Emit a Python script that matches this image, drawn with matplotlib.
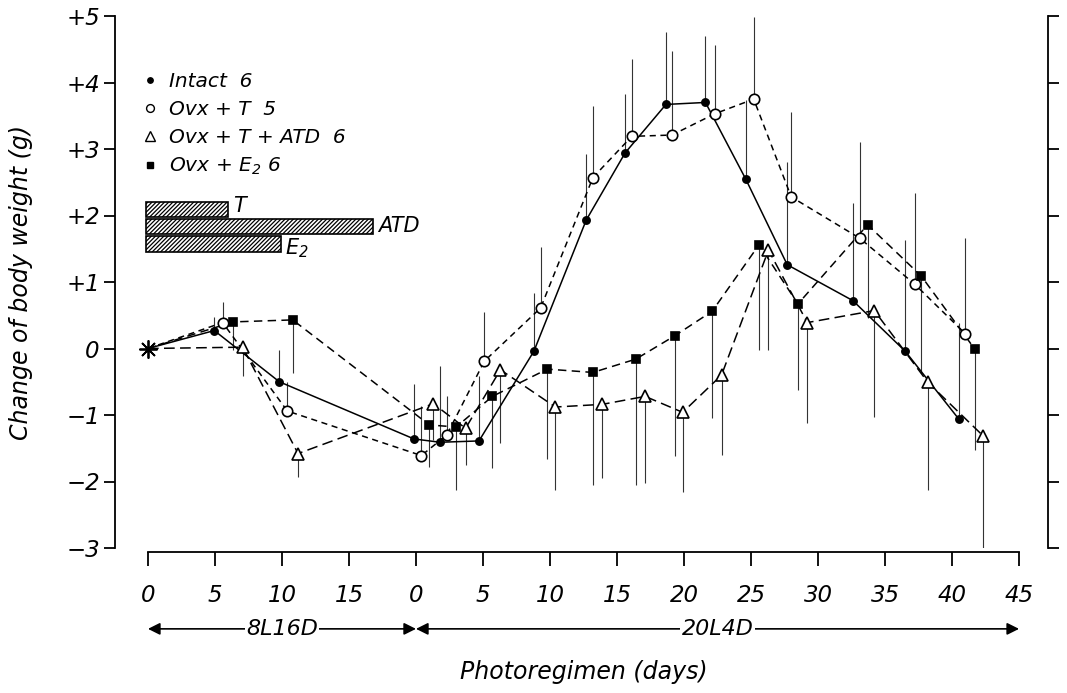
import numpy as np
import matplotlib
matplotlib.use("Agg")
import matplotlib.pyplot as plt
from matplotlib.lines import Line2D

plt.rcParams["font.family"] = ["DejaVu Sans"]
plt.rcParams["font.style"] = "italic"
plt.rcParams["mathtext.fontset"] = "dejavusans"
plt.rcParams["mathtext.default"] = "it"
plt.rcParams["hatch.linewidth"] = 0.9

# days on a continuous scale: 0-20 = 8L16D, 20-65 = 20L4D (0-45)
intact_x = [0, 4.95, 9.8, 19.85, 21.8, 24.7, 28.8, 32.7, 35.6, 38.65, 41.6, 44.6, 47.7, 52.6, 56.5, 60.5]
intact_y = [0, 0.27, -0.50, -1.36, -1.41, -1.39, -0.04, 1.93, 2.94, 3.67, 3.70, 2.55, 1.26, 0.72, -0.04, -1.06]
intact_se = [0, 0.20, 0.48, 0.83, 1.15, 0.97, 0.87, 1.00, 0.89, 1.09, 1.00, 1.19, 1.54, 1.47, 1.67, 1.44]

ovxt_x = [0, 5.57, 10.4, 20.4, 22.3, 25.1, 29.3, 33.2, 36.1, 39.1, 42.3, 45.2, 48.0, 53.1, 57.2, 61.0]
ovxt_y = [0, 0.39, -0.94, -1.61, -1.30, -0.19, 0.61, 2.57, 3.19, 3.21, 3.53, 3.75, 2.28, 1.66, 0.97, 0.22]
ovxt_se = [0, 0.31, 0.44, 0.74, 0.58, 0.74, 0.92, 1.07, 1.16, 1.26, 1.03, 1.23, 1.28, 1.44, 1.37, 1.44]

atd_x = [0, 7.06, 11.2, 21.3, 23.7, 26.3, 30.4, 33.9, 37.1, 39.9, 42.8, 46.3, 49.2, 54.2, 58.2, 62.3]
atd_y = [0, 0.02, -1.58, -0.83, -1.20, -0.32, -0.88, -0.84, -0.72, -0.96, -0.40, 1.48, 0.39, 0.57, -0.51, -1.31]
atd_se = [0, 0.44, 0.35, 0.55, 0.55, 1.10, 1.25, 1.10, 1.30, 1.20, 1.20, 1.50, 1.51, 1.60, 1.62, 1.75]

e2_x = [0, 6.37, 10.8, 21.0, 23.0, 25.7, 29.8, 33.2, 36.4, 39.3, 42.1, 45.6, 48.5, 53.7, 57.7, 61.7]
e2_y = [0, 0.40, 0.43, -1.15, -1.18, -0.72, -0.31, -0.36, -0.16, 0.19, 0.56, 1.56, 0.67, 1.86, 1.09, -0.01]
e2_se = [0, 0.42, 0.80, 0.63, 0.95, 1.08, 1.35, 1.70, 1.90, 1.80, 1.60, 1.58, 1.29, 1.40, 1.46, 1.52]

# treatment bars (end day, y centre)
treat_names = ["T", "ATD", "E$_2$"]
treat_end = [6.0, 16.8, 9.9]
treat_y = [2.09, 1.835, 1.575]

xticks = list(range(0, 70, 5))
xlabels = ["0", "5", "10", "15", "0", "5", "10", "15", "20", "25", "30", "35", "40", "45"]
yticks = [5, 4, 3, 2, 1, 0, -1, -2, -3]
ylabels = ["+5", "+4", "+3", "+2", "+1", "0", "\u22121", "\u22122", "\u22123"]

fig = plt.figure(figsize=(10.67, 6.93), dpi=100)
ax = fig.add_axes([115/1067, 1-548/693, 933/1067, 532/693])
ax.set_xlim(-2.46, 67.16)
ax.set_ylim(-3, 5)

k = "black"
series = [
    (intact_x, intact_y, intact_se, "o", k, 5.2, "-", "up", "Intact  6"),
    (ovxt_x, ovxt_y, ovxt_se, "o", "white", 7.5, (0, (4, 3)), "up", "Ovx + T  5"),
    (atd_x, atd_y, atd_se, "^", "white", 9.0, (0, (7, 3.5)), "down", "Ovx + T + ATD  6"),
    (e2_x, e2_y, e2_se, "s", k, 6.3, (0, (5.5, 3.5)), "down", "Ovx + E$_2$ 6"),
]
handles = []
labels = []
for xs, ys, se, mk, fc, ms, ls, d, lab in series:
    xs = np.array(xs[1:]); ys = np.array(ys[1:]); se = np.array(se[1:])
    if d == "up":
        yerr = [np.zeros_like(se), se]
    else:
        yerr = [se, np.zeros_like(se)]
    ax.errorbar(xs, ys, yerr=yerr, fmt="none", ecolor="#333333", elinewidth=0.8, capsize=0, zorder=1)
    ax.plot(np.r_[0, xs], np.r_[0, ys], color=k, lw=1.1, linestyle=ls, zorder=2)
    ax.plot(xs, ys, linestyle="none", marker=mk, mfc=fc, mec=k, mew=1.2, ms=ms, zorder=3)
    handles.append(Line2D([], [], linestyle="none", marker=mk, mfc=fc, mec=k, mew=1.0, ms=ms*0.75))
    labels.append(lab)

ax.plot([0], [0], linestyle="none", marker=(8, 2, 0), ms=13, mec=k, mew=1.3, zorder=4)

for name, end, yc in zip(treat_names, treat_end, treat_y):
    ax.barh(yc, end + 0.15, left=-0.15, height=0.235, color="white", edgecolor=k,
            hatch="////////", lw=1.2, zorder=2)
    ax.text(end + 0.35, yc + (0.06 if name == "T" else (-0.07 if name != "ATD" else 0)), name,
            fontsize=15, va="center", ha="left")

leg = ax.legend(handles, labels, loc="upper left", bbox_to_anchor=(0.028, 0.895), frameon=False,
                fontsize=14.5, handlelength=0.9, handletextpad=0.5, labelspacing=0.45,
                borderpad=0, borderaxespad=0)

# axes styling
ax.spines["top"].set_visible(False)
for s in ["left", "right"]:
    ax.spines[s].set_linewidth(1.3)
ax.spines["bottom"].set_linewidth(1.3)
ax.spines["bottom"].set_position(("outward", 3))
ax.spines["bottom"].set_bounds(0, 65)
ax.set_yticks(yticks)
ax.set_yticklabels(ylabels, fontsize=16.5)
ax.tick_params(axis="y", left=True, right=True, direction="out", length=8, width=1.3, pad=3)
ax.set_xticks(xticks)
ax.set_xticklabels(xlabels, fontsize=16.5)
ax.tick_params(axis="x", direction="out", length=10, width=1.3, pad=13)

ax.set_ylabel("Change of body weight (g)", fontsize=17, labelpad=24)

# photoregimen arrows
tr = ax.get_xaxis_transform()
yrow = -0.152
ap = dict(arrowstyle="<|-|>", color=k, lw=1.2, mutation_scale=18, shrinkA=0, shrinkB=0)
ax.annotate("", xy=(0, yrow), xytext=(20, yrow), xycoords=tr, textcoords=tr, arrowprops=ap,
            annotation_clip=False)
ax.annotate("", xy=(20, yrow), xytext=(65, yrow), xycoords=tr, textcoords=tr, arrowprops=ap,
            annotation_clip=False)
ax.text(10, yrow, "8L16D", transform=tr, ha="center", va="center", fontsize=16,
        bbox=dict(fc="white", ec="none", pad=1))
ax.text(42.5, yrow, "20L4D", transform=tr, ha="center", va="center", fontsize=16,
        bbox=dict(fc="white", ec="none", pad=1))
ax.text(32.5, -0.234, "Photoregimen (days)", transform=tr, ha="center", va="center", fontsize=17)

fig.savefig("out.png", dpi=100)
